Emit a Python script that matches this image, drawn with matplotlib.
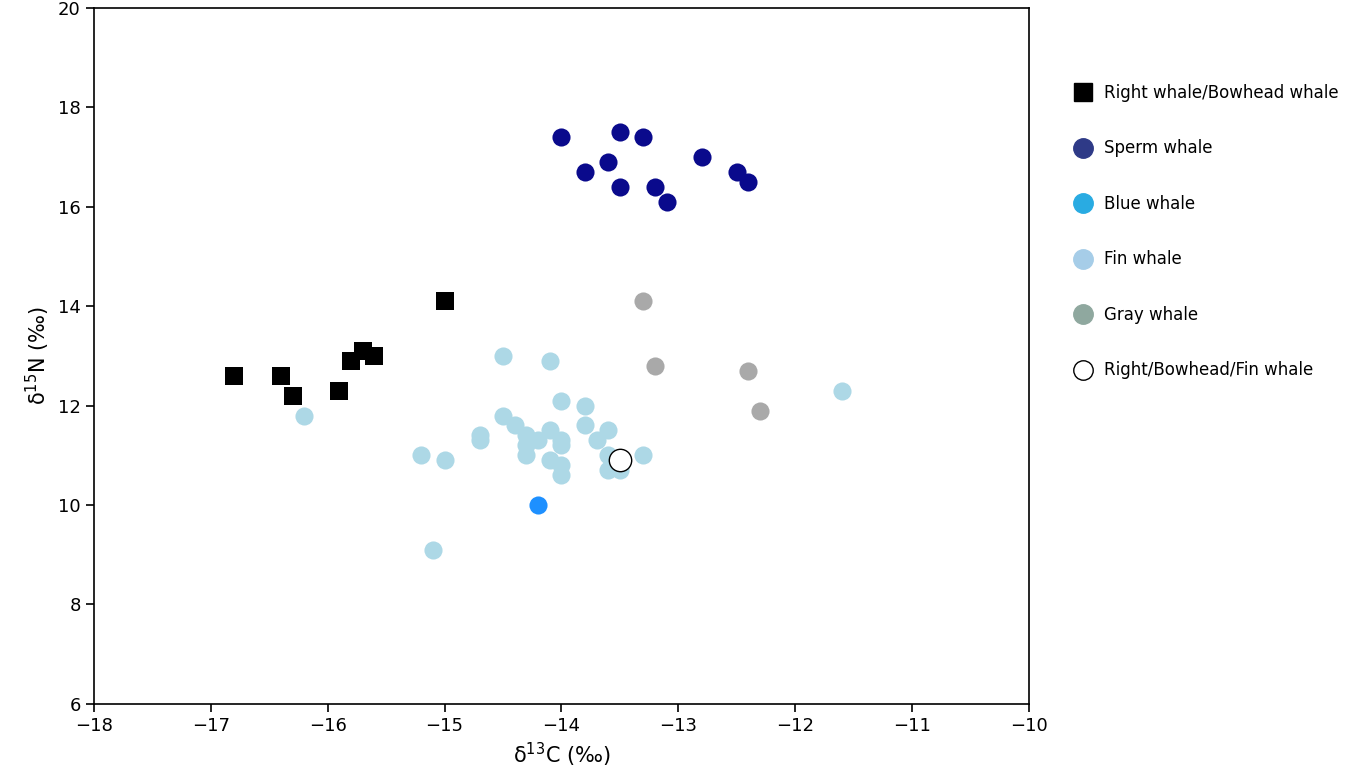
import matplotlib
matplotlib.use("Agg")
import matplotlib.pyplot as plt
from matplotlib.lines import Line2D

right_x = [-16.8, -16.4, -16.3, -15.9, -15.8, -15.7, -15.6, -15.0]
right_y = [12.6, 12.6, 12.2, 12.3, 12.9, 13.1, 13.0, 14.1]
sperm_x = [-14.0, -13.8, -13.6, -13.5, -13.5, -13.3, -13.2, -13.1, -12.8, -12.5, -12.4]
sperm_y = [17.4, 16.7, 16.9, 17.5, 16.4, 17.4, 16.4, 16.1, 17.0, 16.7, 16.5]
blue_x = [-14.2]
blue_y = [10.0]
fin_x = [-16.2, -15.2, -15.0, -15.1, -14.7, -14.7, -14.5, -14.5, -14.4, -14.3, -14.3, -14.3, -14.2,
         -14.1, -14.1, -14.1, -14.0, -14.0, -14.0, -14.0, -14.0, -13.8, -13.8, -13.7, -13.6, -13.6,
         -13.6, -13.5, -13.3, -11.6]
fin_y = [11.8, 11.0, 10.9, 9.1, 11.4, 11.3, 13.0, 11.8, 11.6, 11.4, 11.2, 11.0, 11.3,
         12.9, 11.5, 10.9, 12.1, 11.3, 11.2, 10.8, 10.6, 12.0, 11.6, 11.3, 11.5, 11.0,
         10.7, 10.7, 11.0, 12.3]
gray_x = [-13.3, -13.2, -12.4, -12.3]
gray_y = [14.1, 12.8, 12.7, 11.9]
mixed_x = [-13.5]
mixed_y = [10.9]
labels = ["Right whale/Bowhead whale", "Sperm whale", "Blue whale", "Fin whale",
          "Gray whale", "Right/Bowhead/Fin whale"]

fig = plt.figure(figsize=(13.5, 7.83), dpi=100)
ax = fig.add_axes([0.0696, 0.101, 0.6926, 0.889])
ax.scatter(fin_x, fin_y, s=170, c="#add8e6", marker="o", linewidths=0, zorder=2)
ax.scatter(right_x, right_y, s=170, c="black", marker="s", linewidths=0, zorder=3)
ax.scatter(sperm_x, sperm_y, s=170, c="#0a0a8c", marker="o", linewidths=0, zorder=3)
ax.scatter(blue_x, blue_y, s=170, c="#1e90ff", marker="o", linewidths=0, zorder=3)
ax.scatter(gray_x, gray_y, s=170, c="#a9a9a9", marker="o", linewidths=0, zorder=3)
ax.scatter(mixed_x, mixed_y, s=260, c="white", edgecolors="black", linewidths=1, zorder=4)

ax.set_xlim(-18, -10)
ax.set_ylim(6, 20)
ax.set_xticks(range(-18, -9))
ax.set_yticks(range(6, 21, 2))
ax.tick_params(labelsize=13, length=6, width=1.2)
for sp in ax.spines.values():
    sp.set_linewidth(1.2)
ax.set_xlabel("δ$^{13}$C (‰)", fontsize=15)
ax.set_ylabel("δ$^{15}$N (‰)", fontsize=15)

handles = [
    Line2D([], [], marker="s", ls="", color="black", markersize=13),
    Line2D([], [], marker="o", ls="", color="#2e3a87", markersize=14),
    Line2D([], [], marker="o", ls="", color="#29abe2", markersize=14),
    Line2D([], [], marker="o", ls="", color="#a6cde8", markersize=14),
    Line2D([], [], marker="o", ls="", color="#8fa89f", markersize=14),
    Line2D([], [], marker="o", ls="", markerfacecolor="white", markeredgecolor="black", markersize=14),
]
fig.legend(handles, labels, loc="upper left", bbox_to_anchor=(0.782, 0.912), frameon=False,
           fontsize=12, labelspacing=2.25, handletextpad=0.5, handlelength=1.5)
fig.savefig("out.png", dpi=100)
